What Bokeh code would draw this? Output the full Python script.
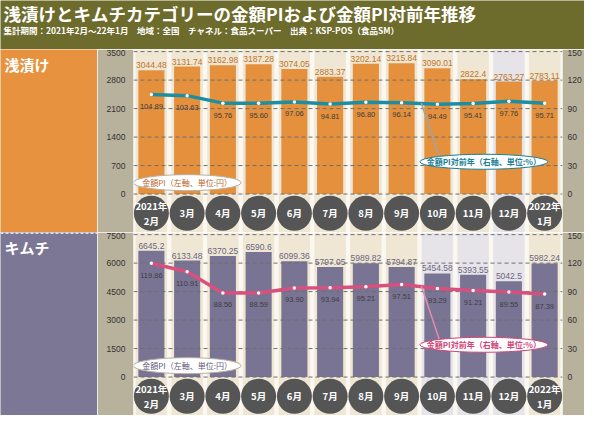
from bokeh.plotting import figure
from bokeh.layouts import column, row
from bokeh.models import Range1d, LinearAxis, FixedTicker
from bokeh.core.properties import value
from bokeh.embed import file_html
from bokeh.resources import INLINE

# ---------------- data ----------------
months = ["2021年\n2月", "3月", "4月", "5月", "6月", "7月", "8月", "9月",
          "10月", "11月", "12月", "2022年\n1月"]
asazuke_pi = [3044.48, 3131.74, 3162.98, 3187.28, 3074.05, 2883.37,
              3202.14, 3215.84, 3090.01, 2822.4, 2763.27, 2783.11]
asazuke_yoy = [104.89, 103.63, 95.76, 95.60, 97.06, 94.81,
               96.80, 96.14, 94.49, 95.41, 97.76, 95.71]
kimchi_pi = [6645.2, 6133.48, 6370.25, 6590.6, 6099.36, 5797.05,
             5989.82, 5794.87, 5454.58, 5393.55, 5042.5, 5982.24]
kimchi_yoy = [119.86, 110.91, 88.56, 88.59, 93.90, 93.94,
              95.21, 97.51, 93.29, 91.21, 89.55, 87.39]
asazuke_ticks = [0, 700, 1400, 2100, 2800, 3500]
kimchi_ticks = [0, 1500, 3000, 4500, 6000, 7500]
pct_ticks = [0, 30, 60, 90, 120, 150]

title_text = "浅漬けとキムチカテゴリーの金額PIおよび金額PI対前年推移"
subtitle_text = "集計期間：2021年2月～22年1月　地域：全国　チャネル：食品スーパー　出典：KSP-POS（食品SM）"
left_note = "金額PI（左軸、単位:円）"
right_note = "金額PI対前年（右軸、単位:%）"

# ---------------- styles ----------------
CJK = "Noto Sans CJK JP"
NUM = "Liberation Sans"
OLIVE = "#6e6c2c"
TAN = "#b8b19c"
FRAME_BG = "#fbf8f1"
BEIGE = "#efe7d3"
GRAYBAND = "#e6e4e8"
W = 584
HEAD_H = 49
PANEL_H = 183
LEFT_W = 97
CHART_W = W - LEFT_W
N = len(months)
idx = list(range(N))


def header():
    p = figure(width=W, height=HEAD_H, x_range=Range1d(0, W), y_range=Range1d(0, HEAD_H),
               output_backend="svg", toolbar_location=None, x_axis_location=None,
               y_axis_location=None, min_border=0, background_fill_color=OLIVE,
               border_fill_color=OLIVE, outline_line_color=None)
    p.grid.visible = False
    p.text(x=[3], y=[HEAD_H - 12.5], text=[title_text], text_font=value(CJK),
           text_font_style="bold", text_font_size="17.5px", text_color="white",
           text_baseline="middle", text_align="left")
    p.text(x=[3], y=[HEAD_H - 29.5], text=[subtitle_text], text_font=value(CJK),
           text_font_style="bold", text_font_size="8.5px", text_color="white",
           text_baseline="middle", text_align="left")
    return p


def side(label, color, sep):
    p = figure(width=LEFT_W, height=PANEL_H, x_range=Range1d(0, LEFT_W),
               y_range=Range1d(0, PANEL_H), output_backend="svg", toolbar_location=None,
               x_axis_location=None, y_axis_location=None, min_border=0,
               background_fill_color=color, border_fill_color=color, outline_line_color=None)
    p.grid.visible = False
    p.text(x=[4], y=[PANEL_H - 15], text=[label], text_font=value(CJK),
           text_font_style="bold", text_font_size="15px", text_color="white",
           text_baseline="middle", text_align="left")
    if sep:
        p.segment(x0=[0], y0=[PANEL_H - 0.5], x1=[LEFT_W], y1=[PANEL_H - 0.5],
                  line_color="white", line_width=1.5, line_dash="3 2")
    return p


def chart(pi, yoy, ticks, bands, bar_color, bar_label_color, line_color,
          note1_color, note2_color, note_line_color, sep):
    ymax = ticks[-1]
    ys, ye = -0.27 * ymax, 1.015 * ymax
    k = 150.0 / ymax
    p = figure(width=CHART_W, height=PANEL_H, x_range=Range1d(-0.5, N - 0.5),
               y_range=Range1d(ys, ye), output_backend="svg", toolbar_location=None,
               x_axis_location=None, y_axis_location="left",
               min_border_left=36, min_border_right=21, min_border_top=0, min_border_bottom=0,
               background_fill_color=FRAME_BG, border_fill_color=TAN, outline_line_color=None)
    p.grid.visible = False
    p.extra_y_ranges = {"pct": Range1d(ys * k, ye * k)}
    rax = LinearAxis(y_range_name="pct", ticker=FixedTicker(ticks=pct_ticks))
    p.add_layout(rax, "right")
    p.yaxis[0].ticker = FixedTicker(ticks=ticks)
    for ax in p.yaxis:
        ax.axis_line_color = None
        ax.major_tick_line_color = None
        ax.minor_tick_line_color = None
        ax.major_tick_out = 0
        ax.major_tick_in = 0
        ax.major_label_text_font = NUM
        ax.major_label_text_font_size = "8.5px"
        ax.major_label_text_color = "#333333"
    p.yaxis[0].major_label_standoff = 8
    rax.major_label_standoff = 5

    # column bands
    p.vbar(x=idx, width=0.88, bottom=ys, top=ye, fill_color=bands, line_color=None)
    # bars
    p.vbar(x=idx, width=0.73, bottom=0, top=pi, fill_color=bar_color, line_color=None)
    # dashed grid
    p.segment(x0=[-0.5] * len(ticks), y0=ticks, x1=[N - 0.5] * len(ticks), y1=ticks,
              line_color="#6f6f6f", line_width=1, line_dash="4 3")
    # bar value labels
    p.text(x=idx, y=pi, text=[str(v) for v in pi], text_font=value(NUM),
           text_font_size="8.5px", text_color=bar_label_color, text_align="center",
           text_baseline="bottom", y_offset=-2)
    # line
    p.line(x=idx, y=yoy, y_range_name="pct", line_color=line_color, line_width=3.5)
    p.scatter(x=idx, y=yoy, y_range_name="pct", size=3.5, fill_color="white",
              line_color=None)
    p.text(x=idx, y=yoy, y_range_name="pct", text=[f"{v:.2f}" for v in yoy],
           text_font=value(NUM), text_font_size="7.5px",
           text_color="#3d3d3d", text_align="center", text_baseline="middle", y_offset=12)
    # month circles
    cy = [ys * 0.5] * N
    p.scatter(x=idx, y=cy, size=35, fill_color="#555555", line_color=None)
    p.text(x=idx, y=cy, text=months, text_font=value(CJK), text_font_style="bold",
           text_font_size="9.5px", text_color="white", text_align="center",
           text_baseline="middle", text_line_height=1.05)
    # callouts
    p.segment(x0=[7.55], y0=[96.0], x1=[8.05], y1=[40.0], y_range_name="pct",
              line_color=note_line_color, line_width=1.5)
    p.ellipse(x=[1.0], y=[0.08 * ymax], width=108, height=16, width_units="screen",
              height_units="screen", fill_color="white", line_color="#b8b0a0", line_width=1)
    p.text(x=[1.0], y=[0.08 * ymax], text=[left_note], text_font=value(CJK),
           text_font_size="8px", text_color=note1_color, text_align="center",
           text_baseline="middle")
    p.ellipse(x=[9.3], y=[34.0], y_range_name="pct", width=128, height=15,
              width_units="screen", height_units="screen", fill_color="white",
              line_color=note2_color, line_width=1)
    p.text(x=[9.3], y=[34.0], y_range_name="pct", text=[right_note], text_font=value(CJK),
           text_font_style="bold", text_font_size="8px", text_color=note2_color,
           text_align="center", text_baseline="middle")
    if sep:
        p.segment(x0=[-0.5], y0=[ye], x1=[N - 0.5], y1=[ye], line_color="white",
                  line_width=2, line_dash="3 2")
    return p


top_bands = [BEIGE] * N
top_bands[10] = GRAYBAND
bot_bands = [BEIGE] * N
for i in (8, 9, 10):
    bot_bands[i] = GRAYBAND

top = chart(asazuke_pi, asazuke_yoy, asazuke_ticks, top_bands, "#e4903d", "#c0742c",
            "#1b8ea3", "#b8661f", "#1b7f95", "#9aa7aa", False)
bot = chart(kimchi_pi, kimchi_yoy, kimchi_ticks, bot_bands, "#7a7494", "#6b6683",
            "#d9507e", "#5f5a7a", "#d0457a", "#e58aaa", True)

layout = column(header(),
                row(side("浅漬け", "#e6923e", False), top),
                row(side("キムチ", "#7c7795", True), bot))

open("out.html", "w").write(file_html(layout, INLINE))
